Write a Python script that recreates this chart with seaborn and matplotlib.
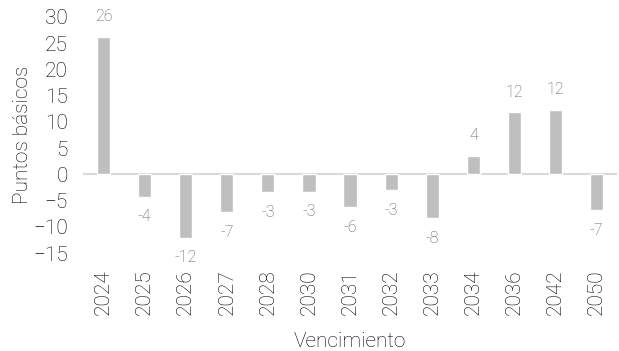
import matplotlib
matplotlib.use("Agg")
import matplotlib.pyplot as plt
import seaborn as sns
import pandas as pd

# Datos
vencimientos = ["2024", "2025", "2026", "2027", "2028", "2030", "2031",
                "2032", "2033", "2034", "2036", "2042", "2050"]
puntos = [26.2, -4.3, -12.1, -7.2, -3.4, -3.3, -6.3, -3.0, -8.4, 3.5, 11.8, 12.3, -6.8]

df = pd.DataFrame({"Vencimiento": vencimientos, "Puntos": puntos})

sns.set_style("white")
plt.rcParams["font.family"] = ["Roboto", "DejaVu Sans"]
plt.rcParams["font.weight"] = "light"
plt.rcParams["axes.labelweight"] = "light"

fig = plt.figure(figsize=(6.19, 3.51), dpi=100)
ax = fig.add_axes([0.134, 0.279, 0.863, 0.673])

sns.barplot(data=df, x="Vencimiento", y="Puntos", color="#bfbfbf",
            saturation=1, width=0.32, ax=ax)

# Linea del cero
ax.axhline(0, color="#d9d9d9", linewidth=1.5, zorder=0)

# Etiquetas de valores
for i, v in enumerate(puntos):
    if v >= 0:
        ax.annotate(f"{v:.0f}", (i, v), xytext=(0, 9), textcoords="offset points",
                    ha="center", va="bottom", fontsize=11.5, color="#595959",
                    annotation_clip=False)
    else:
        ax.annotate(f"{v:.0f}", (i, v), xytext=(0, -9), textcoords="offset points",
                    ha="center", va="top", fontsize=11.5, color="#595959",
                    annotation_clip=False)

ax.set_ylim(-15, 30)
ax.set_xlim(-0.5, len(vencimientos) - 0.5)
ax.set_yticks(range(-15, 31, 5))
ax.tick_params(axis="both", length=0, labelsize=15, labelcolor="#000000")
ax.tick_params(axis="y", pad=11)
ax.tick_params(axis="x", pad=12)
plt.setp(ax.get_xticklabels(), rotation=90)
ax.set_xlabel("Vencimiento", fontsize=15, color="#000000", labelpad=12)
ax.set_ylabel("Puntos básicos", fontsize=15, color="#000000", labelpad=1)
sns.despine(ax=ax, left=True, bottom=True)

fig.savefig("out.png", dpi=100)
